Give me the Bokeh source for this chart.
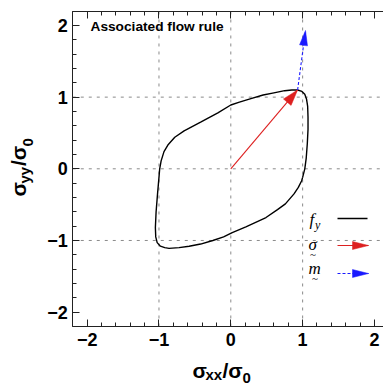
import math
from bokeh.plotting import figure
from bokeh.models import Range1d, LinearAxis, SingleIntervalTicker, Label
from bokeh.embed import file_html
from bokeh.resources import INLINE

# ---------------- data ----------------
curve_x = [1.00, 1.03, 1.05, 1.065, 1.075, 1.075, 1.07, 1.055, 1.03, 0.99, 0.93,
           0.85, 0.75, 0.60, 0.45, 0.28, 0.12, 0.00, -0.18, -0.42, -0.65, -0.78,
           -0.87, -0.93, -0.97, -0.99, -1.00, -1.02, -1.04, -1.05, -1.045, -1.025,
           -0.98, -0.92, -0.86, -0.72, -0.58, -0.42, -0.25, -0.10, 0.02, 0.21,
           0.49, 0.65, 0.76, 0.88, 0.94, 0.985]
curve_y = [-0.12, 0.00, 0.15, 0.35, 0.55, 0.72, 0.87, 0.97, 1.04, 1.08, 1.10,
           1.10, 1.09, 1.06, 1.03, 0.98, 0.93, 0.89, 0.78, 0.65, 0.53, 0.44,
           0.34, 0.24, 0.11, 0.00, -0.12, -0.35, -0.60, -0.82, -0.95, -1.03,
           -1.08, -1.10, -1.11, -1.10, -1.08, -1.05, -1.00, -0.95, -0.89, -0.81,
           -0.68, -0.57, -0.49, -0.35, -0.26, -0.17]
sigma_x = [0.0, 0.93]
sigma_y = [0.0, 1.10]
m_x = [0.93, 1.04]
m_y = [1.10, 1.93]
tick_values = [-2, -1, 0, 1, 2]
tick_labels = ["\u22122", "\u22121", "0", "1", "2"]
grid_values = [-1, 0, 1]
box_lo, box_hi = -2.2, 2.2
legend_names = ["f", "\u03c3", "m"]

# ---------------- layout (page pixels) ----------------
W, H = 383, 385
X0PX, KX = 230.3, 71.83   # page x of data x=0, px per unit
Y0PX, KY = 168.3, 71.67   # page y of data y=0, px per unit
XR = (-X0PX / KX, (W - X0PX) / KX)
YR = (-(H - Y0PX) / KY, Y0PX / KY)
RED = "#dd2020"
BLUE = "#1a1aff"
AXC = "#222222"
DESC = 0.212  # font descent (em), used to place text by its baseline


def dx(px):
    return (px - X0PX) / KX


def dy(py):
    return (Y0PX - py) / KY


p = figure(width=W, height=H, x_range=Range1d(*XR), y_range=Range1d(*YR),
           x_axis_location=None, y_axis_location=None,
           output_backend="svg", toolbar_location=None, min_border=0,
           background_fill_color="white", border_fill_color="white")
p.outline_line_color = None
p.grid.visible = False


def make_axis(loc, bounds, show_labels=True, standoff=6):
    ax = LinearAxis(fixed_location=loc, bounds=bounds)
    ax.ticker = SingleIntervalTicker(interval=1, num_minor_ticks=5)
    ax.major_tick_in = 7
    ax.major_tick_out = 0
    ax.minor_tick_in = 4
    ax.minor_tick_out = 0
    ax.axis_line_color = AXC
    ax.major_tick_line_color = AXC
    ax.minor_tick_line_color = AXC
    ax.major_label_text_font = "Liberation Sans"
    ax.major_label_text_font_style = "bold"
    ax.major_label_text_font_size = "18px"
    ax.major_label_standoff = standoff
    ax.major_label_overrides = dict(zip(tick_values, tick_labels))
    ax.major_label_text_color = "black" if show_labels else None
    return ax


p.add_layout(make_axis(box_lo, (box_lo, XR[1]), standoff=7), "below")
p.add_layout(make_axis(box_lo, (box_lo, box_hi), standoff=5), "left")
p.add_layout(make_axis(box_hi, (box_lo, XR[1]), show_labels=False), "above")

# dashed grid inside the plot box
n = len(grid_values)
p.segment(x0=grid_values, x1=grid_values, y0=[box_lo] * n, y1=[box_hi] * n,
          line_color="#8a8a8a", line_dash="3 5", line_width=1)
p.segment(x0=[box_lo] * n, x1=[XR[1]] * n, y0=grid_values, y1=grid_values,
          line_color="#8a8a8a", line_dash="3 5", line_width=1)


def head(x0, y0, x1, y1, L, Wd, color):
    ddx, ddy = (x1 - x0) * KX, (y1 - y0) * KY
    nn = math.hypot(ddx, ddy)
    ux, uy = ddx / nn, ddy / nn
    bx, by = -ux * L, -uy * L
    vx, vy = -uy * Wd / 2, ux * Wd / 2
    xs = [x1, x1 + (bx + vx) / KX, x1 + (bx - vx) / KX]
    ys = [y1, y1 + (by + vy) / KY, y1 + (by - vy) / KY]
    p.patch(xs, ys, fill_color=color, line_color=color, line_width=0.5)


def txt(s, px, py, size, style="bold", font="Liberation Sans", rotated=False,
        align="left"):
    """px, py: start of the text on its baseline (page pixels)."""
    d = DESC * size
    if rotated:
        ax_, ay_, ang = px + d, py, math.pi / 2
    else:
        ax_, ay_, ang = px, py + d, 0.0
    p.add_layout(Label(x=dx(ax_), y=dy(ay_), x_units="data", y_units="data",
                       text=s, text_font=font, text_font_size=f"{size}px",
                       text_font_style=style, text_color="black",
                       angle=ang, text_align=align, text_baseline="bottom"))

# ---------------- marks ----------------
p.line(curve_x + curve_x[:1], curve_y + curve_y[:1], line_color="black",
       line_width=1.4)
p.line(sigma_x, sigma_y, line_color=RED, line_width=1.1)
head(sigma_x[0], sigma_y[0], sigma_x[1], sigma_y[1], 16, 10, RED)
p.line(m_x, m_y, line_color=BLUE, line_width=1.1, line_dash="3 2")
head(m_x[0], m_y[0], m_x[1], m_y[1], 15, 8, BLUE)

# ---------------- title ----------------
txt("Associated flow rule", 90, 30.5, 13.7)

# ---------------- axis labels ----------------
txt("\u03c3", 192, 377.5, 21)
txt("xx", 205, 379, 15)
txt("/\u03c3", 222, 377.5, 21)
txt("0", 242, 379, 15)
txt("\u03c3", 25.5, 196, 21, rotated=True)
txt("yy", 29.5, 183, 15, rotated=True)
txt("/\u03c3", 25.5, 165.5, 21, rotated=True)
txt("0", 29.5, 146, 15, rotated=True)

# ---------------- legend ----------------
LX0, LX1 = 337, 368
p.line([dx(LX0), dx(LX1 - 1)], [dy(218), dy(218)], line_color="black",
       line_width=1.3)
p.line([dx(LX0), dx(LX1)], [dy(245), dy(245)], line_color=RED, line_width=1.1)
head(dx(LX0), dy(245), dx(LX1), dy(245), 16, 8, RED)
p.line([dx(LX0), dx(LX1)], [dy(273), dy(273)], line_color=BLUE,
       line_width=1.1, line_dash="3 2")
head(dx(LX0), dy(273), dx(LX1), dy(273), 16, 8, BLUE)

SER = "Liberation Serif"
txt(legend_names[0], 309, 225, 17, style="italic", font=SER)
txt("y", 314.5, 229, 12, style="italic", font=SER)
txt(legend_names[1], 308, 250, 17, style="italic", font=SER)
txt("~", 312.5, 257.5, 11, style="normal", font=SER, align="center")
txt(legend_names[2], 308, 274, 17, style="italic", font=SER)
txt("~", 314.5, 281, 11, style="normal", font=SER, align="center")

open("out.html", "w").write(file_html(p, INLINE))
